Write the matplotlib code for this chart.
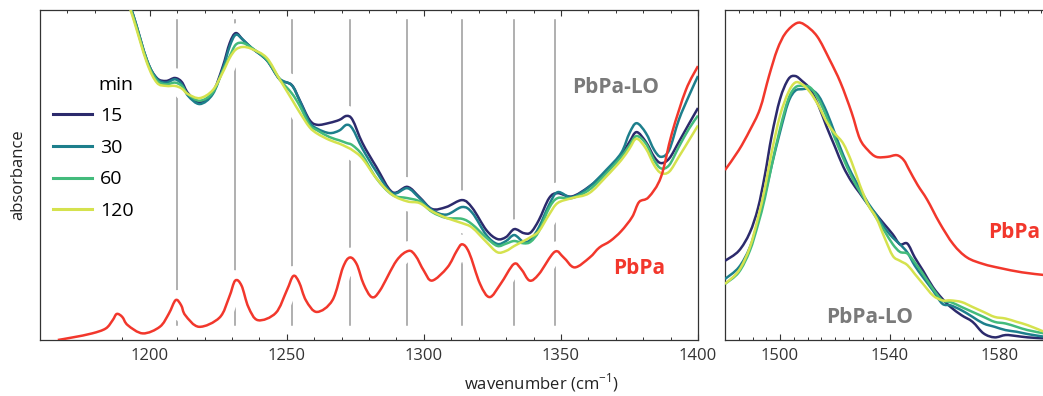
import numpy as np
import matplotlib
matplotlib.use("Agg")
import matplotlib.pyplot as plt
from matplotlib.path import Path
from matplotlib.patches import PathPatch
from matplotlib.lines import Line2D
from matplotlib.ticker import MultipleLocator

plt.rcParams['font.family'] = ['Open Sans', 'DejaVu Sans']
plt.rcParams['mathtext.fontset'] = 'custom'
plt.rcParams['mathtext.rm'] = 'Open Sans'

# ---- left panel: 1160-1400 cm-1 ----
wn_lo = [1186, 1190, 1194, 1199, 1202.6, 1206, 1209.2, 1211.7, 1214, 1218.3, 1223, 1226.6,
         1229.2, 1231.4, 1234, 1237.2, 1242.7, 1247.4, 1251.8, 1254.7, 1258.3, 1261.2, 1265.6,
         1269.2, 1271.8, 1274, 1277.6, 1282.7, 1288.5, 1294, 1298.4, 1303, 1308.2, 1314,
         1317.7, 1322.8, 1326.8, 1330, 1333, 1336.4, 1339, 1342, 1345.7, 1348.8, 1354, 1360.3,
         1366.5, 1372, 1375, 1377.6, 1381, 1384, 1386.5, 1389.5, 1393, 1396.7, 1400]
lo_15 = [1.25, 1.08, 0.985, 0.848, 0.794, 0.785, 0.794, 0.782, 0.748, 0.72, 0.75, 0.827,
         0.90, 0.93, 0.91, 0.885, 0.848, 0.79, 0.773, 0.727, 0.667, 0.652, 0.658,
         0.667, 0.679, 0.667, 0.597, 0.524, 0.448, 0.464, 0.433, 0.397, 0.403, 0.424,
         0.40, 0.333, 0.306, 0.312, 0.336, 0.324, 0.326, 0.364, 0.43, 0.445, 0.435, 0.465,
         0.51, 0.56, 0.60, 0.63, 0.60, 0.555, 0.536, 0.55, 0.60, 0.655, 0.703]
lo_30 = [1.25, 1.08, 0.985, 0.848, 0.792, 0.78, 0.79, 0.775, 0.74, 0.715, 0.745, 0.82,
         0.89, 0.925, 0.91, 0.885, 0.848, 0.792, 0.772, 0.725, 0.66, 0.64, 0.627,
         0.635, 0.652, 0.64, 0.58, 0.51, 0.445, 0.46, 0.43, 0.394, 0.38, 0.403,
         0.385, 0.318, 0.291, 0.30, 0.318, 0.297, 0.305, 0.342, 0.41, 0.448, 0.433, 0.464,
         0.515, 0.567, 0.627, 0.657, 0.627, 0.576, 0.555, 0.576, 0.667, 0.74, 0.80]
lo_60 = [1.25, 1.08, 0.98, 0.845, 0.787, 0.775, 0.78, 0.77, 0.745, 0.725, 0.75, 0.815,
         0.86, 0.895, 0.90, 0.885, 0.85, 0.79, 0.748, 0.71, 0.652, 0.635, 0.615,
         0.605, 0.597, 0.59, 0.56, 0.49, 0.44, 0.43, 0.42, 0.388, 0.37, 0.367,
         0.35, 0.31, 0.285, 0.292, 0.30, 0.293, 0.298, 0.33, 0.40, 0.43, 0.43, 0.455,
         0.505, 0.555, 0.59, 0.618, 0.595, 0.545, 0.52, 0.53, 0.585, 0.64, 0.68]
lo_120 = [1.25, 1.08, 0.975, 0.84, 0.78, 0.77, 0.77, 0.762, 0.745, 0.733, 0.757, 0.81,
          0.855, 0.88, 0.888, 0.882, 0.855, 0.79, 0.73, 0.69, 0.645, 0.625, 0.606,
          0.595, 0.585, 0.575, 0.55, 0.49, 0.44, 0.42, 0.415, 0.39, 0.37, 0.354,
          0.34, 0.297, 0.266, 0.27, 0.285, 0.30, 0.312, 0.33, 0.38, 0.415, 0.43, 0.445,
          0.495, 0.545, 0.58, 0.61, 0.58, 0.53, 0.506, 0.51, 0.555, 0.605, 0.65]

wn_red = [1166.5, 1172, 1179, 1184, 1186.5, 1188, 1190, 1192, 1197.5, 1203.7, 1207, 1209.5,
          1211.5, 1213, 1218, 1225.5, 1229, 1231.2, 1233.5, 1236, 1239.5, 1246, 1250, 1252.4,
          1254.5, 1257, 1261, 1266.7, 1270.5, 1273, 1275.5, 1278, 1281, 1284, 1290, 1294.4,
          1297, 1300, 1303, 1308.6, 1312, 1314, 1316.5, 1320.5, 1324, 1328, 1332.8, 1335.5,
          1338.6, 1342, 1347.7, 1351, 1355, 1360.5, 1364, 1368, 1372, 1376, 1378.5, 1382,
          1386.5, 1390.5, 1395.6, 1400]
red_l = [0.0, 0.008, 0.02, 0.035, 0.06, 0.079, 0.07, 0.045, 0.02, 0.04, 0.08, 0.121,
         0.105, 0.075, 0.04, 0.068, 0.13, 0.18, 0.165, 0.1, 0.06, 0.082, 0.15, 0.194,
         0.175, 0.12, 0.085, 0.121, 0.22, 0.25, 0.23, 0.17, 0.13, 0.15, 0.24, 0.27,
         0.255, 0.21, 0.18, 0.22, 0.27, 0.29, 0.265, 0.17, 0.13, 0.17, 0.23, 0.215,
         0.18, 0.2, 0.267, 0.25, 0.22, 0.25, 0.28, 0.30, 0.33, 0.373, 0.418, 0.433,
         0.494, 0.627, 0.758, 0.83]

peaks = [1210, 1231, 1252, 1273, 1294, 1314, 1333, 1348]

# ---- right panel: 1480-1596 cm-1 ----
wn_r = [1480, 1485, 1489, 1492, 1494.5, 1497, 1500, 1503, 1505.5, 1508, 1511, 1514, 1517,
        1520, 1523, 1526, 1529, 1532, 1535, 1538, 1541, 1543.6, 1546.3, 1549, 1552, 1555.6,
        1559, 1562, 1566, 1570, 1574, 1578, 1582, 1586, 1590, 1596]
r_15 = [0.24, 0.27, 0.325, 0.40, 0.50, 0.62, 0.73, 0.79, 0.80, 0.785, 0.76, 0.71, 0.645,
        0.585, 0.525, 0.48, 0.445, 0.41, 0.38, 0.35, 0.32, 0.29, 0.292, 0.25, 0.21, 0.16,
        0.125, 0.10, 0.075, 0.055, 0.02, 0.008, 0.015, 0.012, 0.008, 0.005]
r_30 = [0.185, 0.22, 0.28, 0.36, 0.44, 0.53, 0.63, 0.72, 0.755, 0.76, 0.76, 0.74, 0.69,
        0.625, 0.56, 0.505, 0.46, 0.415, 0.38, 0.34, 0.31, 0.29, 0.265, 0.225, 0.19, 0.15,
        0.11, 0.105, 0.09, 0.07, 0.05, 0.04, 0.03, 0.025, 0.018, 0.01]
r_60 = [0.17, 0.205, 0.27, 0.35, 0.43, 0.53, 0.64, 0.73, 0.765, 0.77, 0.765, 0.73, 0.675,
        0.61, 0.55, 0.495, 0.45, 0.41, 0.37, 0.33, 0.29, 0.267, 0.262, 0.235, 0.2, 0.155,
        0.12, 0.115, 0.1, 0.085, 0.07, 0.055, 0.05, 0.04, 0.03, 0.02]
r_120 = [0.17, 0.21, 0.28, 0.37, 0.46, 0.57, 0.68, 0.75, 0.78, 0.775, 0.75, 0.71, 0.66,
         0.625, 0.595, 0.54, 0.47, 0.41, 0.37, 0.31, 0.255, 0.24, 0.227, 0.2, 0.17, 0.135,
         0.12, 0.12, 0.115, 0.1, 0.085, 0.07, 0.065, 0.055, 0.045, 0.025]
wn_red_r = [1480, 1485, 1489, 1492.7, 1496, 1499, 1502, 1506, 1509, 1513.5, 1518, 1522, 1526,
            1529, 1532, 1535, 1539, 1542.5, 1545, 1547, 1550, 1553.5, 1558, 1563, 1568, 1574,
            1580, 1588, 1596]
red_r = [0.515, 0.575, 0.635, 0.70, 0.80, 0.88, 0.93, 0.96, 0.955, 0.92, 0.85, 0.78, 0.69,
         0.61, 0.575, 0.555, 0.555, 0.56, 0.545, 0.515, 0.47, 0.425, 0.355, 0.29, 0.25, 0.23,
         0.218, 0.205, 0.197]

labels = ['15', '30', '60', '120']
colors = ['#2c2a6c', '#1d7f8c', '#43bb7c', '#d5e24e']
red = '#f2372c'
grey_txt = '#7a7a7a'

fig = plt.figure(figsize=(10.43, 3.96), dpi=100)
ax1 = fig.add_axes([40/1043, 56/396, 658/1043, 330/396])
ax2 = fig.add_axes([725/1043, 56/396, 318/1043, 330/396])


def smooth(x, y):
    # smooth curve through the measured points (Catmull-Rom as cubic Bezier)
    p = np.column_stack([x, y]).astype(float)
    n = len(p)
    verts, codes = [p[0]], [Path.MOVETO]
    for i in range(n - 1):
        p0 = p[i - 1] if i > 0 else p[i]
        p3 = p[i + 2] if i + 2 < n else p[i + 1]
        verts += [p[i] + (p[i + 1] - p0) / 6, p[i + 1] - (p3 - p[i]) / 6, p[i + 1]]
        codes += [Path.CURVE4] * 3
    return Path(verts, codes)


def draw(ax, x, y, c):
    path = smooth(x, y)
    # white halo cuts the grey marker lines where a spectrum crosses them
    ax.add_patch(PathPatch(path, fill=False, edgecolor='white', lw=14, zorder=2,
                           capstyle='round'))
    ax.add_patch(PathPatch(path, fill=False, edgecolor=c, lw=1.8, zorder=3,
                           joinstyle='round'))


for ys, c in zip([lo_15, lo_30, lo_60, lo_120], colors):
    draw(ax1, wn_lo, ys, c)
draw(ax1, wn_red, red_l, red)
for p in peaks:
    ax1.axvline(p, ymin=0.045, ymax=0.97, color='#9a9a9a', lw=1.1, zorder=1)

for ys, c in zip([r_15, r_30, r_60, r_120], colors):
    draw(ax2, wn_r, ys, c)
draw(ax2, wn_red_r, red_r, red)

ax1.set_xlim(1160, 1400)
ax2.set_xlim(1480, 1595.6)
for ax in (ax1, ax2):
    ax.set_ylim(0, 1)
    ax.set_yticks([])
    ax.tick_params(axis='x', which='both', direction='in', top=True, colors='#333333',
                   labelsize=12, pad=6)
    ax.tick_params(axis='x', which='major', length=4.5, width=0.8)
    ax.tick_params(axis='x', which='minor', length=2.5, width=0.7)
    for s in ax.spines.values():
        s.set_color('#333333')
        s.set_linewidth(0.9)
ax1.xaxis.set_major_locator(MultipleLocator(50))
ax1.xaxis.set_minor_locator(MultipleLocator(10))
ax2.set_xticks([1500, 1540, 1580])
ax2.xaxis.set_minor_locator(MultipleLocator(5))
ax2.spines['right'].set_visible(False)

ax1.set_ylabel('absorbance', fontsize=12, color='#222222', labelpad=10)
fig.text(541/1043, 13/396, 'wavenumber (cm$^{-1}$)', ha='center', va='center',
         fontsize=12, color='#222222')

ax1.text(1370, 0.764, 'PbPa-LO', color=grey_txt, fontsize=15, fontweight='bold',
         ha='center', va='center')
ax1.text(1378.5, 0.218, 'PbPa', color=red, fontsize=15, fontweight='bold',
         ha='center', va='center')
ax2.text(1585, 0.327, 'PbPa', color=red, fontsize=15, fontweight='bold',
         ha='center', va='center')
ax2.text(1532.7, 0.067, 'PbPa-LO', color=grey_txt, fontsize=15, fontweight='bold',
         ha='center', va='center')

handles = [Line2D([], [], color=c, lw=2.2) for c in colors]
ax1.legend(handles, labels, title='min', loc='upper left', bbox_to_anchor=(0.008, 0.825),
           frameon=False, fontsize=14, title_fontsize=14, handlelength=2.0,
           handletextpad=0.4, labelspacing=0.7, alignment='right', borderaxespad=0)

fig.savefig('out.png', dpi=100, facecolor='white')
